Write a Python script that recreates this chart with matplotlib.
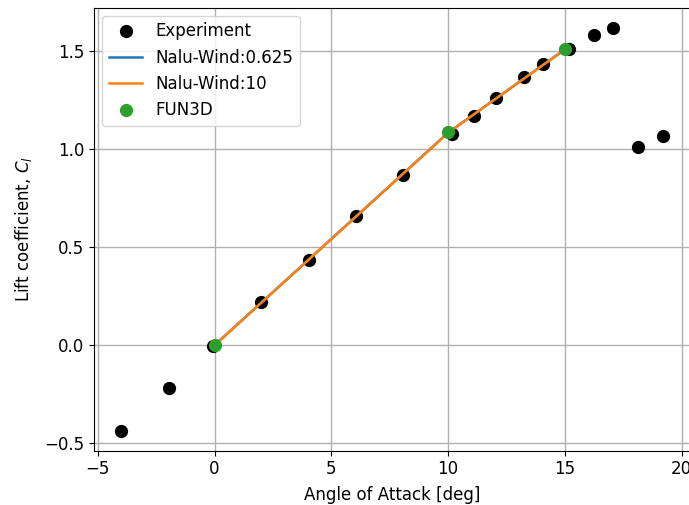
import matplotlib
matplotlib.use("Agg")
import matplotlib.pyplot as plt

plt.rcParams['font.size'] = 12

# Experimental lift data
exp_aoa = [-4.0, -1.95, -0.05, 2.0, 4.05, 6.05, 8.05, 10.15, 11.1, 12.05,
           13.25, 14.05, 15.2, 16.25, 17.05, 18.15, 19.2]
exp_cl = [-0.435, -0.22, -0.005, 0.22, 0.437, 0.658, 0.869, 1.079, 1.167, 1.259,
          1.366, 1.432, 1.508, 1.584, 1.619, 1.01, 1.066]

# CFD results
nalu_coarse_aoa = [0.0, 10.0, 15.0]
nalu_coarse_cl = [0.0, 1.083, 1.508]
nalu_fine_aoa = [0.0, 10.0, 15.0]
nalu_fine_cl = [0.0, 1.083, 1.508]
fun3d_aoa = [0.0, 10.0, 15.0]
fun3d_cl = [0.0, 1.085, 1.508]

fig = plt.figure(figsize=(6.89, 5.05), dpi=100)
ax = fig.add_axes([94 / 689, 54.3 / 505, 596 / 689, 443.2 / 505])

ax.plot(exp_aoa, exp_cl, 'o', color='black', markersize=8.5, label='Experiment')
ax.plot(nalu_coarse_aoa, nalu_coarse_cl, '-', color='C0', linewidth=1.8,
        label='Nalu-Wind:0.625')
ax.plot(nalu_fine_aoa, nalu_fine_cl, '-', color='C1', linewidth=1.8,
        label='Nalu-Wind:10')
ax.plot(fun3d_aoa, fun3d_cl, 'o', color='C2', markersize=8.5, label='FUN3D')

ax.set_xlabel('Angle of Attack [deg]', labelpad=5.5)
ax.set_ylabel('Lift coefficient, $C_l$', labelpad=7.5)
ax.grid(True, linewidth=1.0)
ax.legend(loc='upper left')

fig.savefig('out.png', dpi=100)
